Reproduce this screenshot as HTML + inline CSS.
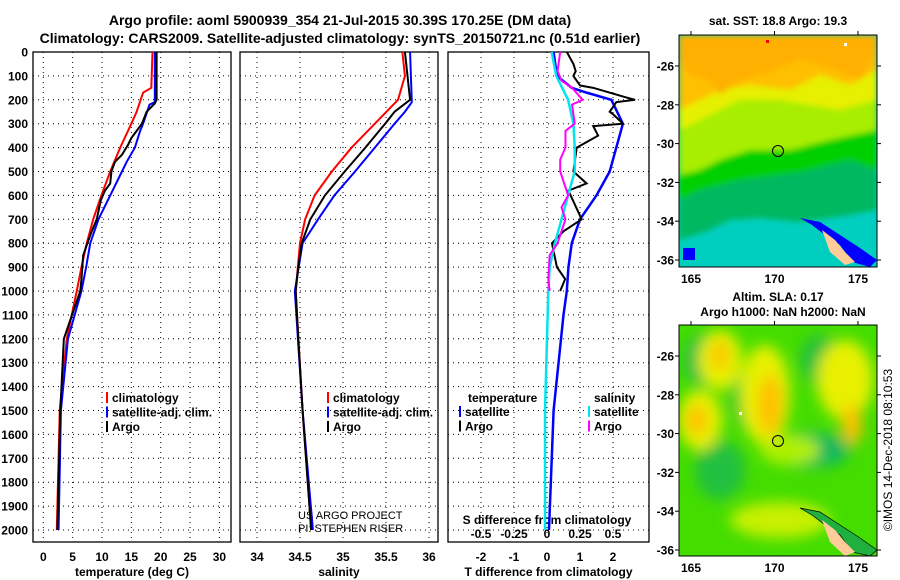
<!DOCTYPE html>
<html><head><meta charset="utf-8"><style>
body{margin:0;background:#fff;}
svg{display:block;font-family:"Liberation Sans",Arial,sans-serif;font-weight:bold;}
</style></head><body>
<svg id="c" width="900" height="580" viewBox="0 0 900 580">
<defs>
<clipPath id="m1"><rect x="679" y="35" width="198" height="232"/></clipPath>
<clipPath id="m2"><rect x="679" y="325" width="198" height="231"/></clipPath>
<filter id="bl" x="-50%" y="-50%" width="200%" height="200%"><feGaussianBlur stdDeviation="7"/></filter>
<filter id="bl2" x="-50%" y="-50%" width="200%" height="200%"><feGaussianBlur stdDeviation="3"/></filter>
</defs>
<text x="340" y="25" text-anchor="middle" font-size="14">Argo profile: aoml 5900939_354 21-Jul-2015 30.39S 170.25E (DM data)</text>
<text x="340" y="43" text-anchor="middle" font-size="14">Climatology: CARS2009. Satellite-adjusted climatology: synTS_20150721.nc (0.51d earlier)</text>

<g>
<text x="778" y="25" text-anchor="middle" font-size="12">sat. SST: 18.8 Argo: 19.3</text>
<g clip-path="url(#m1)">
<rect x="679" y="35" width="198" height="232" fill="#00cfc0"/>
<g filter="url(#bl2)">
<polygon points="679,35 877,35 877,210 850,215 800,222 760,218 730,220 710,230 679,240" fill="#00b860"/>
<polygon points="679,35 877,35 877,170 850,160 800,172 740,180 700,190 679,200" fill="#00d000"/>
<polygon points="679,35 877,35 877,130 830,140 790,150 750,150 720,160 700,170 679,175" fill="#a8ee00"/>
<polygon points="679,35 877,35 877,100 840,110 780,100 740,100 700,120 679,130" fill="#e6f000"/>
<polygon points="679,35 877,35 877,70 850,85 820,75 790,90 750,85 720,90 700,100 679,110" fill="#ffc000"/>
<polygon points="679,35 877,35 872,60 860,80 835,70 800,60 770,72 740,80 720,95 710,80 690,75 679,60" fill="#ffb000"/>
</g>
<polygon points="800,218 812,225 825,235 840,245 852,262 870,267 877,260 860,248 840,235 820,222" fill="#0000ff"/>
<polygon points="822,230 835,240 845,252 855,262 845,265 830,252" fill="#ffcc99"/>
<rect x="683" y="248" width="12" height="12" fill="#0000ff"/>
<rect x="766" y="40" width="3" height="3" fill="#ff0000"/>
<rect x="844" y="43" width="3" height="3" fill="#fff"/>
<circle cx="778" cy="151" r="5.5" fill="none" stroke="#000"/>
</g>
<rect x="679" y="35" width="198" height="232" fill="none" stroke="#000"/>
</g>

<g>
<text x="778" y="301" text-anchor="middle" font-size="12">Altim. SLA: 0.17</text>
<text x="783" y="316" text-anchor="middle" font-size="12">Argo h1000: NaN h2000: NaN</text>
<g clip-path="url(#m2)">
<rect x="679" y="325" width="198" height="231" fill="#44dd00"/>
<g filter="url(#bl)">
<ellipse cx="700" cy="360" rx="15" ry="25" fill="#10b850"/>
<ellipse cx="750" cy="400" rx="18" ry="30" fill="#20c040"/>
<ellipse cx="820" cy="360" rx="20" ry="25" fill="#20c040"/>
<ellipse cx="810" cy="450" rx="40" ry="18" fill="#10b860"/>
<ellipse cx="720" cy="470" rx="25" ry="30" fill="#20c040"/>
<ellipse cx="720" cy="360" rx="22" ry="30" fill="#e8f000"/>
<ellipse cx="765" cy="395" rx="25" ry="50" fill="#e8f000"/>
<ellipse cx="700" cy="420" rx="22" ry="30" fill="#e8f000"/>
<ellipse cx="845" cy="380" rx="28" ry="40" fill="#e8f000"/>
<ellipse cx="780" cy="520" rx="50" ry="18" fill="#c8f000"/>
<ellipse cx="790" cy="450" rx="30" ry="15" fill="#b0f000"/>
<ellipse cx="770" cy="405" rx="12" ry="30" fill="#ffc000"/>
<ellipse cx="720" cy="355" rx="8" ry="15" fill="#ffc000"/>
<ellipse cx="697" cy="420" rx="10" ry="15" fill="#ffc000"/>
<ellipse cx="852" cy="425" rx="10" ry="20" fill="#ffc000"/>
</g>
<polygon points="800,508 812,515 825,525 840,535 852,552 870,556 877,550 860,538 840,525 820,512" fill="#20b040" stroke="#000" stroke-width="0.7"/>
<polygon points="822,520 835,530 845,542 855,552 845,556 830,542" fill="#ffcc99"/>
<rect x="739" y="412" width="3" height="3" fill="#fff"/>
<circle cx="778" cy="441" r="5.5" fill="none" stroke="#000"/>
</g>
<rect x="679" y="325" width="198" height="231" fill="none" stroke="#000"/>
</g>
<text transform="translate(892,450) rotate(-90)" text-anchor="middle" font-size="12" font-weight="normal">©IMOS 14-Dec-2018 08:10:53</text>
<text x="298" y="519" font-size="11" font-weight="normal">US ARGO PROJECT</text>
<text x="298" y="532" font-size="11" font-weight="normal">PI: STEPHEN RISER</text>
</svg>
<script>
// ---- data ----
const depthTicks=[0,100,200,300,400,500,600,700,800,900,1000,1100,1200,1300,1400,1500,1600,1700,1800,1900,2000];
const tempTicks=[0,5,10,15,20,25,30];
const salTicks=[34,34.5,35,35.5,36];
const salTickLabels=["34","34.5","35","35.5","36"];
const tdTicks=[-2,-1,0,1,2];
const sdTicks=[-0.5,-0.25,0,0.25,0.5];
const sdTickLabels=["-0.5","-0.25","0","0.25","0.5"];
const latTicks=[-26,-28,-30,-32,-34,-36];
const lonTicks=[165,170,175];

const tArgoDepth=[0,200,215,250,300,340,360,390,430,460,500,550,580,620,700,760,850,950,1000,1200,1500,2000];
const tArgo=[19.3,19.3,19.0,17.6,16.8,15.6,15.0,14.4,13.4,12.2,11.6,11.4,10.5,9.8,9.1,8.1,6.8,6.5,6.3,3.5,2.9,2.4];
const tClimDepth=[0,150,170,250,300,400,500,600,700,800,900,1000,1200,1500,2000];
const tClim=[18.6,18.4,17.0,15.9,15.0,13.1,11.4,9.9,8.5,7.4,6.5,5.7,4.0,2.8,2.3];
const tSatDepth=[0,210,220,300,330,400,460,500,600,700,800,900,1000,1200,1500,2000];
const tSat=[19.0,19.0,18.1,17.0,16.5,15.6,14.2,13.4,11.4,9.4,8.0,7.3,6.5,4.2,3.0,2.6];

const sArgoDepth=[0,200,250,300,400,500,600,700,800,900,1000,1200,1500,2000];
const sArgo=[35.72,35.78,35.6,35.49,35.26,35.02,34.79,34.62,34.52,34.48,34.45,34.48,34.53,34.63];
const sClimDepth=[0,100,200,300,400,500,600,700,800,1000,1500,2000];
const sClim=[35.69,35.72,35.64,35.37,35.1,34.87,34.67,34.56,34.5,34.45,34.53,34.63];
const sSatDepth=[0,210,250,300,400,500,600,700,800,1000,1500,2000];
const sSat=[35.78,35.8,35.72,35.6,35.37,35.14,34.9,34.71,34.53,34.44,34.53,34.65];

const tdArgoDepth=[0,50,80,100,140,150,190,200,210,250,260,300,310,350,400,500,550,580,700,750,800,900,950,1000];
const tdArgo=[0.6,0.8,0.87,0.8,1.0,1.4,2.4,2.67,2.1,1.9,2.0,2.3,1.4,1.55,0.9,0.8,1.2,0.65,1.05,0.5,0.15,0.3,0.55,0.4];
const tdSatDepth=[0,100,150,170,200,300,400,500,600,700,800,900,1000,1100,1500,2000];
const tdSat=[0.2,0.3,0.75,1.2,1.95,2.3,2.1,1.9,1.5,1.0,0.75,0.65,0.6,0.5,0.2,0.06];
const sdArgoDepth=[0,80,120,150,200,220,300,330,400,450,500,600,650,700,800,850,950,1000];
const sdArgo=[0.1,0.08,0.11,0.19,0.27,0.19,0.21,0.14,0.14,0.1,0.1,0.16,0.11,0.14,0.08,0.02,0.01,0.02];
const sdSatDepth=[0,100,200,300,400,500,600,700,800,900,1000,1500,2000];
const sdSat=[0.035,0.07,0.16,0.2,0.21,0.21,0.16,0.11,0.06,0.02,0.01,-0.015,-0.015];

// ---- drawing ----
const NS="http://www.w3.org/2000/svg";
const svg=document.getElementById('c');
function mk(tag,at,parent){const e=document.createElementNS(NS,tag);for(const k in at)e.setAttribute(k,at[k]);(parent||svg).appendChild(e);return e;}
const yD=d=>52+d*0.239;
const TOP=52,BOT=542;
function panel(name,x0,x1,ticks,xf,labels,title,showDepth){
  const g=mk('g',{});
  
  
  depthTicks.forEach(d=>{
    const l=mk('line',{x1:x0,x2:x1,y1:yD(d),y2:yD(d),stroke:'#000','stroke-dasharray':'1,4','stroke-width':1},g);
    
    
    if(showDepth){
      const t=mk('text',{x:28,y:yD(d)+4.5,'text-anchor':'end','font-size':12},g);
      t.textContent=d;
      
      
    }
  });
  ticks.forEach((v,i)=>{
    const x=xf(v);
    const l=mk('line',{x1:x,x2:x,y1:TOP,y2:BOT,stroke:'#000','stroke-dasharray':'1,4'},g);
    
    
    if(labels){
      const t=mk('text',{x:x,y:561,'text-anchor':'middle','font-size':12},g);
      t.textContent=labels[i];
      
      
    }
  });
  const r=mk('rect',{x:x0,y:TOP,width:x1-x0,height:BOT-TOP,fill:'none',stroke:'#000','stroke-width':1.3},g);
  
  
  const tt=mk('text',{x:(x0+x1)/2,y:576,'text-anchor':'middle','font-size':12},g);
  tt.textContent=title;
  
  
  return g;
}
function line(name,g,depths,vals,xf,color,w){
  const p=mk('polyline',{points:depths.map((d,i)=>xf(vals[i])+','+yD(d)).join(' '),fill:'none',stroke:color,'stroke-width':w},g);
  
  
}
function legend(g,x,y,entries){
  entries.forEach((e,i)=>{
    const yy=y+i*14.5;
    const m=mk('rect',{x:x,y:yy-10,width:2,height:11,fill:e[1]},g);
    
    
    const t=mk('text',{x:x+6,y:yy,'font-size':12},g);
    t.textContent=e[0];
    
    
  });
}
// temperature panel
const xT=v=>43.3+v*5.87;
const g1=panel('temperature-panel',33,231,tempTicks,xT,tempTicks.map(String),'temperature (deg C)',true);
line('temp-climatology-line',g1,tClimDepth,tClim,xT,'#ff0000',2);
line('temp-satellite-line',g1,tSatDepth,tSat,xT,'#0000ff',2);
line('temp-argo-line',g1,tArgoDepth,tArgo,xT,'#000',2);
legend(g1,106,402,[['climatology','#ff0000'],['satellite-adj. clim.','#0000ff'],['Argo','#000']]);
// salinity panel
const xS=v=>257+(v-34)*86;
const g2=panel('salinity-panel',240,438,salTicks,xS,salTickLabels,'salinity',false);
line('sal-climatology-line',g2,sClimDepth,sClim,xS,'#ff0000',2);
line('sal-satellite-line',g2,sSatDepth,sSat,xS,'#0000ff',2);
line('sal-argo-line',g2,sArgoDepth,sArgo,xS,'#000',2);
legend(g2,327,402,[['climatology','#ff0000'],['satellite-adj. clim.','#0000ff'],['Argo','#000']]);
// difference panel
const xTD=v=>547+v*33;
const xSD=v=>547+v*132;
const g3=panel('difference-panel',448,649,tdTicks,xTD,tdTicks.map(String),'T difference from climatology',false);
sdTicks.forEach((v,i)=>{
  const t=mk('text',{x:xSD(v),y:538,'text-anchor':'middle','font-size':12},g3);
  t.textContent=sdTickLabels[i];
  
  
});
const st=mk('text',{x:547,y:524,'text-anchor':'middle','font-size':12},g3);
st.textContent='S difference from climatology';


line('tdiff-satellite-line',g3,tdSatDepth,tdSat,xTD,'#0000ff',2.5);
line('tdiff-argo-line',g3,tdArgoDepth,tdArgo,xTD,'#000',2);
line('sdiff-satellite-line',g3,sdSatDepth,sdSat,xSD,'#00e5ee',2.5);
line('sdiff-argo-line',g3,sdArgoDepth,sdArgo,xSD,'#ff00ff',2);
const h1=mk('text',{x:468,y:402,'font-size':12},g3);h1.textContent='temperature';


const h2=mk('text',{x:594,y:402,'font-size':12},g3);h2.textContent='salinity';


legend(g3,459,416,[['satellite','#0000ff'],['Argo','#000']]);
legend(g3,588,416,[['satellite','#00e5ee'],['Argo','#ff00ff']]);
// map axes
const yLat=(lat,top)=>top+31+(-26-lat)*19.4;
const xLon=lon=>691+(lon-165)*16.7;
[[35,267],[325,556]].forEach(([top,bot])=>{
  latTicks.forEach(lat=>{
    const y=yLat(lat,top);
    const t=mk('text',{x:674,y:y+4.5,'text-anchor':'end','font-size':12});
    t.textContent=lat;
    
    
    mk('line',{x1:877,x2:881,y1:y,y2:y,stroke:'#000'});
    mk('line',{x1:675,x2:679,y1:y,y2:y,stroke:'#000'});
  });
  lonTicks.forEach(lon=>{
    const x=xLon(lon);
    const t=mk('text',{x:x,y:bot+16,'text-anchor':'middle','font-size':12});
    t.textContent=lon;
    
    
    mk('line',{x1:x,x2:x,y1:top-4,y2:top,stroke:'#000'});
  });
});
</script>
</body></html>
